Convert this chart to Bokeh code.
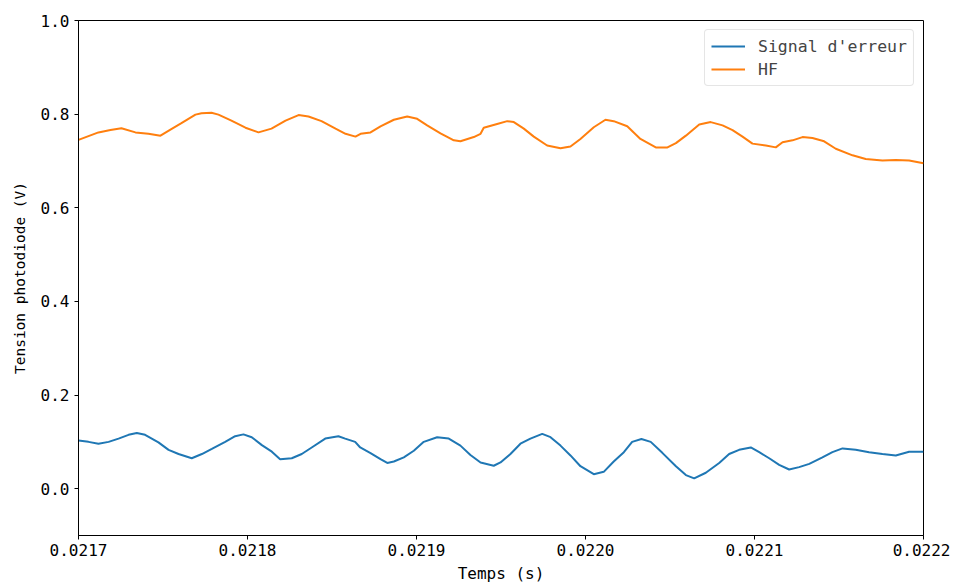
from bokeh.plotting import figure
from bokeh.models import Range1d, FixedTicker, PrintfTickFormatter, Legend, LegendItem
from bokeh.embed import file_html
from bokeh.resources import INLINE

# time offsets (microseconds after 0.0217 s) and voltages
hf_t_us = [0.0, 11.8, 18.9, 25.4, 33.7, 41.4, 48.5, 54.4, 60.9, 69.2, 72.8, 78.7, 82.8,
           90.5, 98.8, 106.5, 114.2, 122.5, 130.2, 136.1, 143.8, 152.1, 158.0, 163.9,
           166.9, 172.8, 178.7, 186.6, 194.5, 200.4, 206.3, 214.2, 222.1, 226.0, 233.9,
           237.9, 239.8, 247.7, 253.7, 257.6, 263.5, 269.4, 277.3, 285.2, 291.1, 297.0,
           304.9, 311.8, 316.7, 324.7, 332.5, 341.6, 348.5, 353.5, 359.4, 367.3, 374.1,
           381.1, 387.0, 392.9, 398.8, 406.7, 412.6, 416.6, 422.5, 428.4, 434.3, 441.2,
           448.1, 458.0, 465.8, 475.7, 483.6, 491.5, 500.0]
hf_v = [0.745, 0.761, 0.766, 0.770, 0.761, 0.758, 0.754, 0.767, 0.781, 0.799, 0.802, 0.803,
        0.799, 0.786, 0.771, 0.761, 0.769, 0.786, 0.798, 0.795, 0.785, 0.769, 0.758, 0.752,
        0.758, 0.761, 0.774, 0.788, 0.795, 0.790, 0.776, 0.759, 0.744, 0.742, 0.751,
        0.758, 0.771, 0.779, 0.785, 0.783, 0.769, 0.752, 0.733, 0.727, 0.731, 0.747,
        0.772, 0.788, 0.785, 0.774, 0.747, 0.729, 0.729, 0.738, 0.754, 0.778, 0.783,
        0.776, 0.766, 0.752, 0.737, 0.733, 0.729, 0.740, 0.744, 0.751, 0.749, 0.742,
        0.726, 0.712, 0.704, 0.701, 0.702, 0.701, 0.695]

err_t_us = [0.0, 5.9, 11.8, 17.8, 23.7, 29.6, 34.5, 39.4, 47.3, 53.3, 59.2, 67.0, 73.0,
            78.9, 86.8, 92.7, 97.6, 102.5, 108.5, 114.4, 119.3, 126.2, 132.1, 138.0,
            146.0, 153.8, 157.8, 163.7, 166.7, 172.8, 178.7, 182.7, 186.6, 192.5, 198.4,
            204.3, 212.2, 219.1, 226.0, 231.9, 237.9, 245.7, 249.7, 255.6, 261.5, 267.4,
            274.4, 279.3, 285.2, 291.1, 297.0, 304.9, 310.8, 316.7, 322.7, 327.6, 333.1,
            338.6, 345.6, 353.5, 359.4, 364.3, 371.2, 379.1, 385.0, 390.9, 397.8, 402.8,
            408.7, 414.6, 420.5, 426.4, 432.4, 440.2, 446.1, 452.1, 459.9, 467.8, 475.7,
            483.6, 491.5, 500.0]
err_v = [0.103, 0.100, 0.096, 0.100, 0.107, 0.115, 0.119, 0.115, 0.099, 0.083, 0.074, 0.065,
         0.074, 0.085, 0.100, 0.112, 0.116, 0.110, 0.093, 0.079, 0.063, 0.065, 0.074,
         0.088, 0.107, 0.112, 0.107, 0.100, 0.088, 0.076, 0.063, 0.055, 0.058, 0.067,
         0.081, 0.100, 0.110, 0.107, 0.092, 0.072, 0.056, 0.049, 0.056, 0.074, 0.096,
         0.107, 0.117, 0.110, 0.092, 0.071, 0.048, 0.031, 0.036, 0.058, 0.078, 0.100,
         0.106, 0.100, 0.076, 0.048, 0.029, 0.022, 0.034, 0.055, 0.074, 0.083, 0.088,
         0.078, 0.065, 0.051, 0.041, 0.046, 0.053, 0.067, 0.078, 0.086, 0.083, 0.078,
         0.074, 0.071, 0.079, 0.079]

t0 = 0.0217
hf_t = [t0 + u * 1e-6 for u in hf_t_us]
err_t = [t0 + u * 1e-6 for u in err_t_us]

x_ticks = [0.0217, 0.0218, 0.0219, 0.0220, 0.0221, 0.0222]
y_ticks = [0.0, 0.2, 0.4, 0.6, 0.8, 1.0]

FONT = "DejaVu Sans Mono"

p = figure(width=950, height=586, output_backend="svg", toolbar_location=None,
           x_range=Range1d(0.0217, 0.0222), y_range=Range1d(-0.1, 1.0),
           min_border_left=78, min_border_right=27, min_border_top=20, min_border_bottom=51)
p.background_fill_color = "white"
p.border_fill_color = "white"
p.outline_line_color = "black"
p.outline_line_width = 1
p.xgrid.visible = False
p.ygrid.visible = False

l1 = p.line(err_t, err_v, line_color="#1f77b4", line_width=2)
l2 = p.line(hf_t, hf_v, line_color="#ff7f0e", line_width=2)

for ax in (p.xaxis[0], p.yaxis[0]):
    ax.major_label_text_font = FONT
    ax.major_label_text_font_size = "16px"
    ax.major_label_text_color = "black"
    ax.axis_label_text_font = FONT
    ax.axis_label_text_font_style = "normal"
    ax.axis_label_text_color = "black"
    ax.minor_tick_line_color = None
    ax.major_tick_out = 4
    ax.major_tick_in = 0
    ax.axis_line_color = "black"
    ax.major_tick_line_color = "black"

p.xaxis.axis_label_text_font_size = "16px"
p.yaxis.axis_label_text_font_size = "14.5px"
p.xaxis.ticker = FixedTicker(ticks=x_ticks)
p.xaxis.formatter = PrintfTickFormatter(format="%.4f")
p.yaxis.ticker = FixedTicker(ticks=y_ticks)
p.yaxis.formatter = PrintfTickFormatter(format="%.1f")
p.xaxis.axis_label = "Temps (s)"
p.yaxis.axis_label = "Tension photodiode (V)"
p.xaxis.major_label_standoff = 4
p.xaxis.axis_label_standoff = 5
p.yaxis.axis_label_standoff = 10

legend = Legend(items=[LegendItem(label="Signal d'erreur", renderers=[l1]),
                       LegendItem(label="HF", renderers=[l2])],
                location="top_right")
legend.label_text_font = FONT
legend.label_text_font_size = "16.5px"
legend.border_line_color = "#cccccc"
legend.border_line_width = 1
legend.border_radius = 4
legend.glyph_width = 34
legend.label_standoff = 13
legend.spacing = 3
legend.padding = 6
legend.margin = 9
legend.label_height = 20
legend.glyph_height = 20
p.add_layout(legend)

open("out.html", "w").write(file_html(p, INLINE))
